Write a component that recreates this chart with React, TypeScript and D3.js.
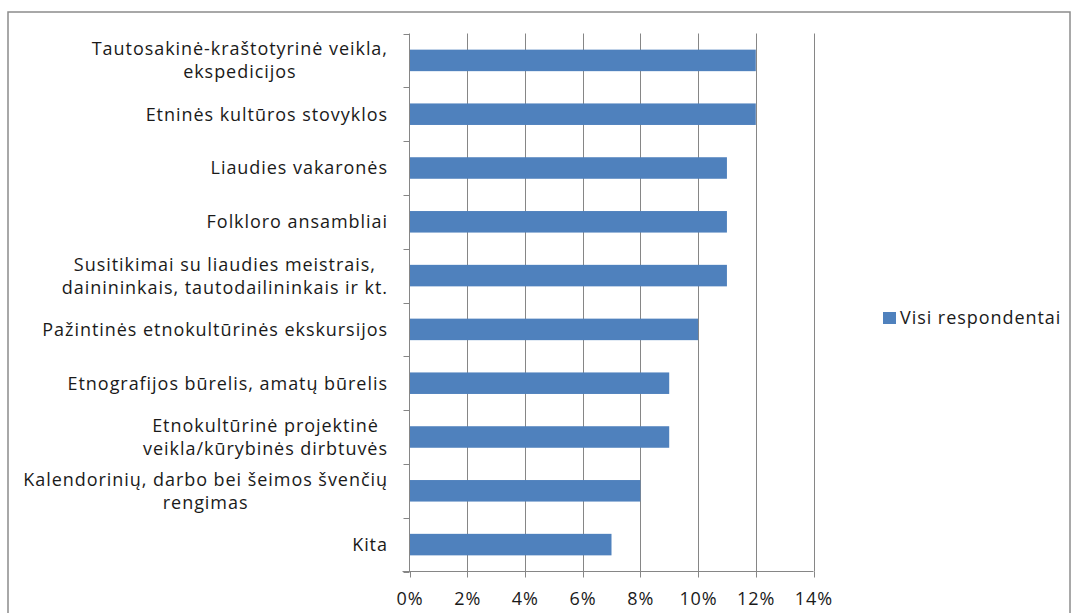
import React from "react";
import * as d3 from "d3";

const categories: string[][] = [
  ["Tautosakinė-kraštotyrinė veikla,", "ekspedicijos"],
  ["Etninės kultūros stovyklos"],
  ["Liaudies vakaronės"],
  ["Folkloro ansambliai"],
  ["Susitikimai su liaudies meistrais,", "dainininkais, tautodailininkais ir kt."],
  ["Pažintinės etnokultūrinės ekskursijos"],
  ["Etnografijos būrelis, amatų būrelis"],
  ["Etnokultūrinė projektinė", "veikla/kūrybinės dirbtuvės"],
  ["Kalendorinių, darbo bei šeimos švenčių", "rengimas"],
  ["Kita"],
];

const values: number[] = [12, 12, 11, 11, 11, 10, 9, 9, 8, 7];
const xTicks: number[] = [0, 2, 4, 6, 8, 10, 12, 14];
const seriesName = "Visi respondentai";

const W = 1071;
const H = 613;
const left = 409.5;
const right = 813.5;
const top = 33.5;
const bottom = 571.5;
const FONT_FAMILY = "'Open Sans'";
const FS = 18;
const LS = 0.95;
const BAR = "#4F81BD";
const GRID = "#868686";
const TEXT = "#1a1a1a";

let ctx: CanvasRenderingContext2D | null = null;
function measure(s: string): number {
  const fallback = s.length * FS * 0.5;
  if (typeof document === "undefined") return fallback;
  if (!ctx) ctx = document.createElement("canvas").getContext("2d");
  if (!ctx) return fallback;
  ctx.font = `${FS}px ${FONT_FAMILY}`;
  return ctx.measureText(s).width + s.length * LS;
}

export default function App() {
  const x = d3.scaleLinear().domain([0, 14]).range([left, right]);
  const ids = categories.map((_, i) => String(i));
  const y = d3.scaleBand<string>().domain(ids).range([top, bottom]).paddingInner(0.6).paddingOuter(0.3);
  const band = (bottom - top) / categories.length;
  const boundaries = d3.range(categories.length + 1).map((i) => top + i * band);
  const capShift = FS * 0.36;
  const labelRight = 387 + LS;

  return (
    <svg
      width={W}
      height={H}
      style={{ position: "fixed", left: 0, top: 0, background: "#fff" }}
      fontFamily={FONT_FAMILY}
      letterSpacing={LS}
    >
      <rect x={8} y={12} width={1062} height={640} fill="#fff" stroke="#8c8c8c" strokeWidth={1.5} />
      {xTicks.slice(1).map((t) => (
        <line key={"g" + t} x1={Math.round(x(t)) + 0.5} x2={Math.round(x(t)) + 0.5} y1={top} y2={bottom} stroke={GRID} strokeWidth={1} />
      ))}
      {values.map((v, i) => (
        <rect key={"b" + i} x={x(0)} y={y(String(i))!} width={x(v) - x(0)} height={y.bandwidth()} fill={BAR} />
      ))}
      <line x1={left} x2={left} y1={top} y2={bottom} stroke={GRID} />
      <line x1={left - 7} x2={right} y1={bottom} y2={bottom} stroke={GRID} />
      {boundaries.map((b, i) => (
        <line key={"yt" + i} x1={left - 6} x2={left} y1={Math.round(b) + 0.5} y2={Math.round(b) + 0.5} stroke={GRID} />
      ))}
      {xTicks.map((t) => (
        <g key={"xt" + t}>
          <line x1={Math.round(x(t)) + 0.5} x2={Math.round(x(t)) + 0.5} y1={bottom} y2={bottom + 6} stroke={GRID} />
          <text x={x(t) + LS / 2} y={598.5 + capShift} textAnchor="middle" fontSize={FS} fill={TEXT}>
            {t + "%"}
          </text>
        </g>
      ))}
      {categories.map((lines, i) => {
        const cy = top + (i + 0.5) * band;
        const lh = 23;
        const start = cy - ((lines.length - 1) * lh) / 2;
        const widths = lines.map(measure);
        const maxW = Math.max(...widths);
        const cx = labelRight - maxW / 2;
        return (
          <text key={"c" + i} textAnchor="middle" fontSize={FS} fill={TEXT}>
            {lines.map((l, j) => (
              <tspan key={j} x={cx} y={start + j * lh + capShift}>
                {l}
              </tspan>
            ))}
          </text>
        );
      })}
      <rect x={883} y={312} width={13} height={12} fill={BAR} />
      <text x={900} y={318 + capShift} fontSize={FS} fill={TEXT}>
        {seriesName}
      </text>
    </svg>
  );
}
